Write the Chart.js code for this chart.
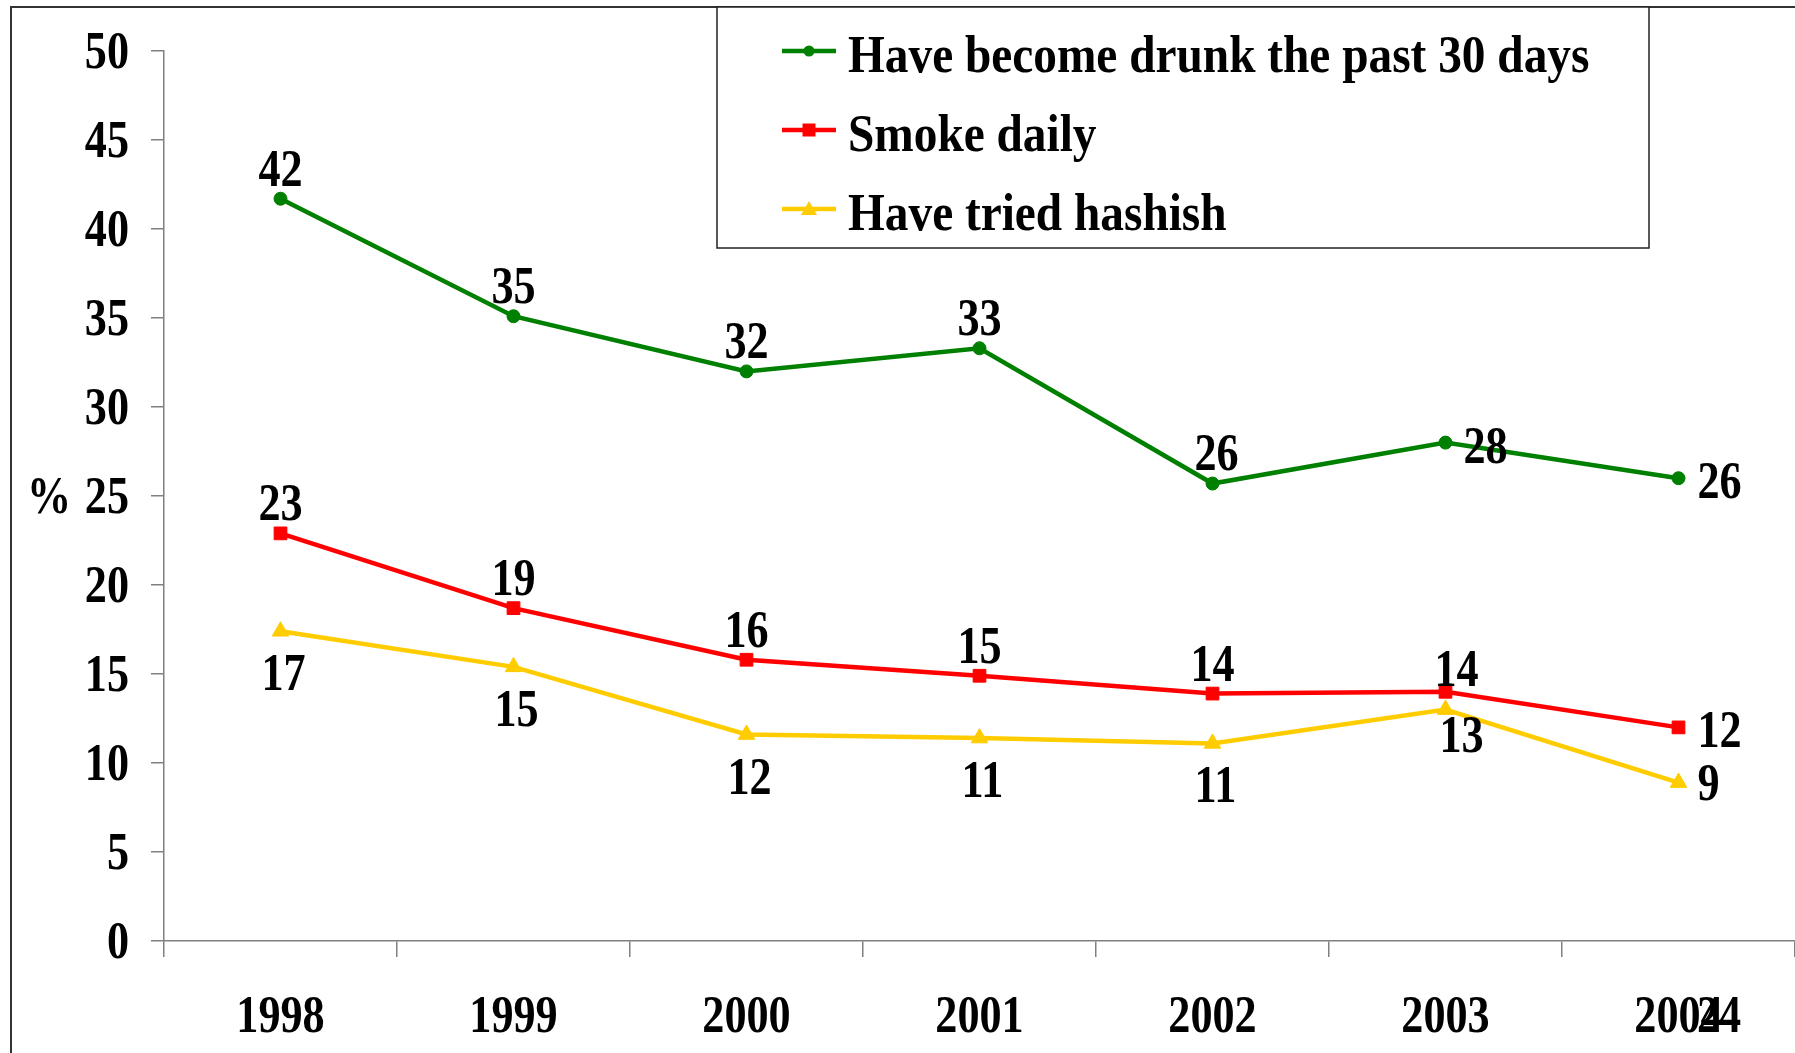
<!DOCTYPE html>
<html>
<head>
<meta charset="utf-8">
<script src="https://cdn.jsdelivr.net/npm/chart.js@4/dist/chart.umd.min.js"></script>
<style>
  html, body { margin: 0; padding: 0; background: #fff; overflow: hidden; }
</style>
</head>
<body>
<canvas id="trendChart" width="1795" height="1053"></canvas>
<script>
// data
const years = ['1998', '1999', '2000', '2001', '2002', '2003', '2004'];
const seriesNames = ['Have become drunk the past 30 days', 'Smoke daily', 'Have tried hashish'];
const drunk = [41.7, 35.1, 32.0, 33.3, 25.7, 28.0, 26.0];
const smoke = [22.9, 18.7, 15.8, 14.9, 13.9, 14.0, 12.0];
const hashish = [17.4, 15.4, 11.6, 11.4, 11.1, 13.0, 8.9];
const yTitle = '%';
const strayLabel = '24';

const FONT = 'Liberation Serif';
const FSIZE = 52;
const SX = 0.85;      // the original text is squeezed sideways
const MID = 17;       // baseline drop so the digits are centred on a y

// where the value labels sit, relative to the point (default + overrides by index)
const labelSpots = [
    { dx: 0, dy: -30, at: { 4: [4, -31], 5: [40, 3], 6: [41, 3] } },
    { dx: 0, dy: -30, at: { 5: [11, -23], 6: [41, 3] } },
    { dx: 3, dy: 42, at: { 5: [16, 25], 6: [30, 0] } }
];

function squeezedText(c, txt, x, y, align, sx) {
    c.save();
    c.translate(x, y);
    c.scale(sx || SX, 1);
    c.textAlign = align;
    c.textBaseline = 'alphabetic';
    c.fillText(txt, 0, 0);
    c.restore();
}

// plugin: frame, tick text, value labels, legend box, "%" title
const extras = {
    id: 'extras',
    beforeDraw(chart) {
        const c = chart.ctx;
        c.save();
        c.fillStyle = '#fff';
        c.fillRect(0, 0, chart.width, chart.height);
        c.restore();
    },
    afterDatasetsDraw(chart) {
        const c = chart.ctx;
        c.save();
        c.font = 'bold ' + FSIZE + 'px "' + FONT + '"';
        c.fillStyle = '#000';
        chart.data.datasets.forEach((ds, di) => {
            const meta = chart.getDatasetMeta(di);
            const spot = labelSpots[di];
            meta.data.forEach((pt, i) => {
                let dx = spot.dx, dy = spot.dy;
                if (spot.at[i]) { dx = spot.at[i][0]; dy = spot.at[i][1]; }
                squeezedText(c, String(Math.round(ds.data[i])), pt.x + dx, pt.y + dy + MID, 'center');
            });
        });
        c.restore();
    },
    afterDraw(chart) {
        const c = chart.ctx;
        const xs = chart.scales.x, ys = chart.scales.y;
        c.save();
        c.font = 'bold ' + FSIZE + 'px "' + FONT + '"';
        c.fillStyle = '#000';

        // tick text, placed from the library's scales
        xs.ticks.forEach((t, i) => {
            squeezedText(c, xs.getLabelForValue(t.value), xs.getPixelForTick(i), 1015 + MID, 'center');
        });
        ys.ticks.forEach((t, i) => {
            squeezedText(c, String(t.value), ys.left + ys.width - 35, ys.getPixelForTick(i) + MID, 'right');
        });

        // outer frame (right and bottom are off the picture)
        c.strokeStyle = '#333';
        c.lineWidth = 2;
        c.beginPath();
        c.moveTo(11, chart.height);
        c.lineTo(11, 7);
        c.lineTo(chart.width, 7);
        c.stroke();

        // legend box
        c.lineWidth = 1.5;
        c.strokeStyle = '#222';
        c.fillStyle = '#fff';
        c.fillRect(717, 7, 932, 241);
        c.strokeRect(717, 7, 932, 241);
        const rows = [55, 134, 213];
        chart.data.datasets.forEach((ds, di) => {
            const y = rows[di] - 4;
            c.strokeStyle = ds.borderColor;
            c.fillStyle = ds.borderColor;
            c.lineWidth = 4.5;
            c.beginPath();
            c.moveTo(782, y);
            c.lineTo(836, y);
            c.stroke();
            const mx = 809;
            c.beginPath();
            if (ds.pointStyle === 'circle') {
                c.arc(mx, y, 5.5, 0, Math.PI * 2);
            } else if (ds.pointStyle === 'rect') {
                c.rect(mx - 6.5, y - 6.5, 13, 13);
            } else {
                c.moveTo(mx - 8, y + 6);
                c.lineTo(mx + 8, y + 6);
                c.lineTo(mx, y - 8);
                c.closePath();
            }
            c.fill();
            c.fillStyle = '#000';
            squeezedText(c, ds.label, 848, rows[di] + MID, 'left', 0.91);
        });

        // axis title and the stray label near the last year
        squeezedText(c, yTitle, 49, 496 + MID, 'center');
        squeezedText(c, strayLabel, 1719, 1015 + MID, 'center');
        c.restore();
    }
};

const ctx = document.getElementById('trendChart').getContext('2d');
const chart = new Chart(ctx, {
    type: 'line',
    data: {
        labels: years,
        datasets: [{
            label: seriesNames[0],
            data: drunk,
            borderColor: '#008000',
            backgroundColor: '#008000',
            pointStyle: 'circle',
            pointRadius: 6.5
        }, {
            label: seriesNames[1],
            data: smoke,
            borderColor: '#ff0000',
            backgroundColor: '#ff0000',
            pointStyle: 'rect',
            pointRadius: 9
        }, {
            label: seriesNames[2],
            data: hashish,
            borderColor: '#ffcc00',
            backgroundColor: '#ffcc00',
            pointStyle: 'triangle',
            pointRadius: 9.5
        }]
    },
    options: {
        responsive: false,
        animation: false,
        layout: { autoPadding: false, padding: { top: 51, left: 14, right: 0, bottom: 0 } },
        elements: {
            line: { borderWidth: 4.5, tension: 0 },
            point: { borderWidth: 1, hoverRadius: 6 }
        },
        plugins: {
            legend: { display: false },
            tooltip: { enabled: false }
        },
        scales: {
            x: {
                offset: true,
                afterFit(scale) { scale.height = 112; },
                grid: { offset: true, drawOnChartArea: false, tickLength: 16, color: '#808080', lineWidth: 1.5 },
                border: { color: '#808080', width: 1.5 },
                ticks: {
                    color: 'rgba(0,0,0,0)',
                    maxRotation: 0,
                    font: { family: FONT, size: 30, weight: 'bold' }
                }
            },
            y: {
                min: 0,
                max: 50,
                afterFit(scale) { scale.width = 150; },
                grid: { drawOnChartArea: false, tickLength: 13, color: '#808080', lineWidth: 1.5 },
                border: { color: '#808080', width: 1.5 },
                ticks: {
                    stepSize: 5,
                    color: 'rgba(0,0,0,0)',
                    font: { family: FONT, size: 30, weight: 'bold' }
                }
            }
        }
    },
    plugins: [extras]
});
</script>
</body>
</html>
